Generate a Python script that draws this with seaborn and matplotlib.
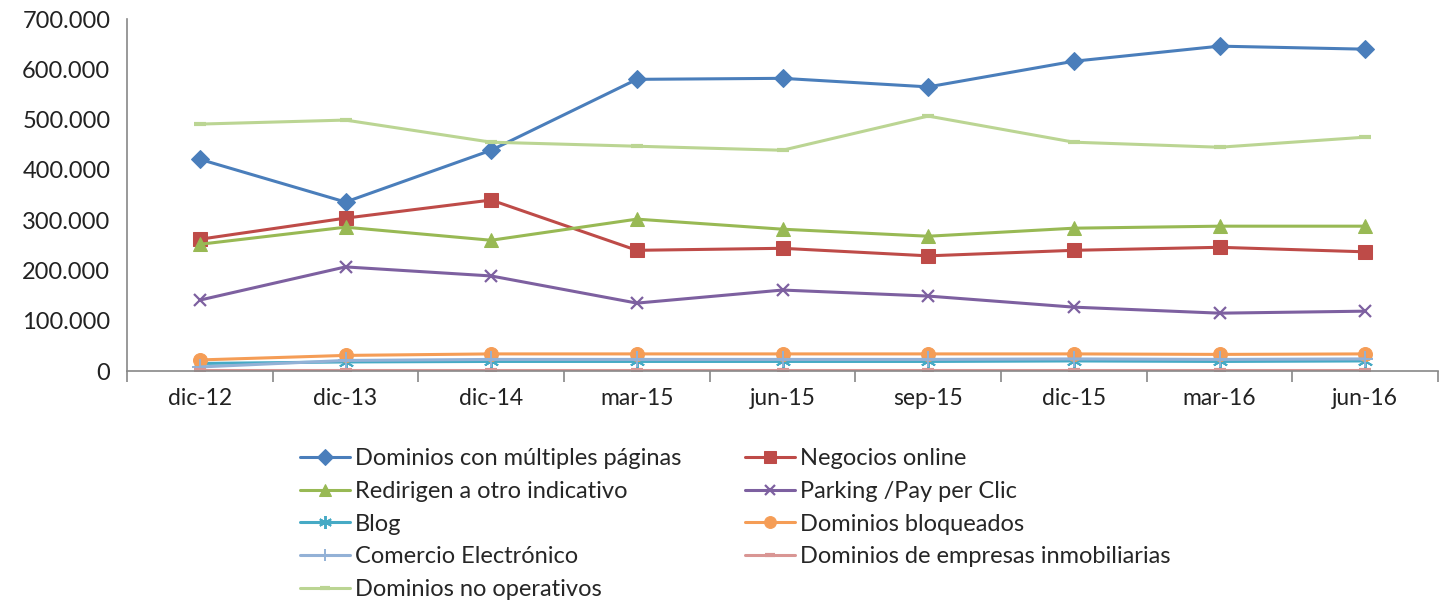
import numpy as np
import pandas as pd
import matplotlib
matplotlib.use("Agg")
import matplotlib.pyplot as plt
import seaborn as sns
from matplotlib.ticker import FuncFormatter, FixedLocator

categories = ["dic-12", "dic-13", "dic-14", "mar-15", "jun-15", "sep-15", "dic-15", "mar-16", "jun-16"]

multiples = [421000, 336000, 439000, 580000, 582000, 565000, 616000, 646000, 640000]
negocios = [262000, 304000, 340000, 240000, 244000, 229000, 240000, 246000, 237000]
redirigen = [252000, 286000, 260000, 302000, 282000, 268000, 284000, 288000, 288000]
parking = [141000, 207000, 189000, 135000, 161000, 149000, 127000, 115000, 119000]
blog = [15000, 18000, 19000, 19000, 19000, 19000, 20000, 19000, 20000]
bloqueados = [22000, 31000, 34000, 34000, 34000, 34000, 34000, 33000, 34000]
comercio = [8000, 21000, 23000, 23000, 23000, 23000, 24000, 23000, 24000]
inmobiliarias = [2000, 2000, 2000, 2000, 2000, 2000, 2000, 2000, 2000]
no_operativos = [491000, 499000, 455000, 447000, 439000, 507000, 455000, 445000, 465000]

series = [
    ("Dominios con múltiples páginas", multiples, "#4A7EBB", "D", 9, dict()),
    ("Negocios online", negocios, "#BE4B48", "s", 9.5, dict()),
    ("Redirigen a otro indicativo", redirigen, "#98B954", "^", 9.5, dict()),
    ("Parking /Pay per Clic", parking, "#7D60A0", "x", 9, dict(markeredgewidth=1.6)),
    ("Blog", blog, "#46AAC5", (6, 2, 0), 11, dict(markeredgewidth=1.4)),
    ("Dominios bloqueados", bloqueados, "#F59D56", "o", 10, dict()),
    ("Comercio Electrónico", comercio, "#93B1D6", "+", 11, dict(markeredgewidth=1.4)),
    ("Dominios de empresas inmobiliarias", inmobiliarias, "#D99694", "_", 9, dict(markeredgewidth=3)),
    ("Dominios no operativos", no_operativos, "#BBD593", "_", 9, dict(markeredgewidth=3)),
]

sns.set_theme(style="white")
plt.rcParams["font.family"] = ["Lato", "DejaVu Sans"]

fig = plt.figure(figsize=(14.48, 6.0), dpi=100)
ax = fig.add_axes([127 / 1448, 1 - 371 / 600, (1438 - 127) / 1448, (371 - 19) / 600])

x = np.arange(len(categories))
handles = {}
for name, vals, color, marker, ms, extra in series:
    df = pd.DataFrame({"x": x, "y": vals})
    sns.lineplot(data=df, x="x", y="y", ax=ax, color=color, linewidth=2.2,
                 marker=marker, markersize=ms, markeredgecolor=color,
                 markerfacecolor=color, label=name, legend=False, **extra)
    handles[name] = ax.get_lines()[-1]

ax.set_xlim(-0.5, len(categories) - 0.5)
ax.set_ylim(0, 700000)
ax.set_xlabel("")
ax.set_ylabel("")
ax.set_xticks(x)
ax.set_xticklabels(categories, fontsize=16.5, color="#222222")
ax.xaxis.set_minor_locator(FixedLocator(np.arange(-0.5, len(categories), 1.0)))
ax.tick_params(axis="x", which="major", length=0, pad=12)
ax.tick_params(axis="x", which="minor", length=8, width=1.2, color="#888888", direction="out", bottom=True)
ax.set_yticks(np.arange(0, 700001, 100000))
ax.yaxis.set_major_formatter(FuncFormatter(lambda v, p: f"{int(v):,}".replace(",", ".")))
ax.tick_params(axis="y", length=0, pad=12, labelsize=17, labelcolor="#222222")

for s in ["top", "right"]:
    ax.spines[s].set_visible(False)
for s in ["left", "bottom"]:
    ax.spines[s].set_color("#888888")
    ax.spines[s].set_linewidth(1.2)
ax.grid(False)

col1 = ["Dominios con múltiples páginas", "Redirigen a otro indicativo", "Blog",
        "Comercio Electrónico", "Dominios no operativos"]
col2 = ["Negocios online", "Parking /Pay per Clic", "Dominios bloqueados",
        "Dominios de empresas inmobiliarias"]

common = dict(loc="upper left", frameon=False, fontsize=17, handlelength=2.1,
              handletextpad=0.22, labelspacing=0.5, borderpad=0, borderaxespad=0,
              markerscale=0.85)
leg1 = fig.legend([handles[n] for n in col1], col1,
                  bbox_to_anchor=(300 / 1448, 1 - 448 / 600), **common)
leg2 = fig.legend([handles[n] for n in col2], col2,
                  bbox_to_anchor=(745 / 1448, 1 - 448 / 600), **common)

fig.savefig("out.png", dpi=100, facecolor="white")
